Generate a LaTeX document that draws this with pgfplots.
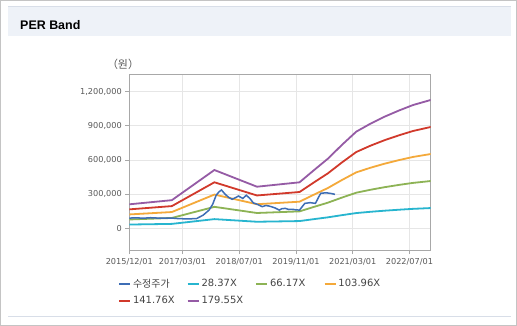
\documentclass[border=0pt]{standalone}
\usepackage{fontspec}
\setmainfont{Liberation Sans}
\newfontfamily\kr{Noto Sans CJK KR}
\newfontfamily\dv{DejaVu Sans}
\usepackage{pgfplots}
\usepackage{pgfplotstable}
\pgfplotsset{compat=1.18}
\definecolor{bluec}{HTML}{3D6DB5}
\definecolor{cyanc}{HTML}{27B5CF}
\definecolor{greenc}{HTML}{8DB355}
\definecolor{orangec}{HTML}{F4A93A}
\definecolor{redc}{HTML}{D1392B}
\definecolor{purplec}{HTML}{955BA5}
\definecolor{bandcol}{HTML}{EEF2F8}
\definecolor{bandline}{HTML}{D8DEE8}
\definecolor{outer}{HTML}{C4C4C4}
\definecolor{gridcol}{HTML}{E6E6E6}
\definecolor{axiscol}{HTML}{A8A8A8}
\definecolor{tickcol}{HTML}{5A5A5A}
\definecolor{legcol}{HTML}{444444}

\pgfplotstableread{
m b1 b2 b3 b4 b5
0 33300 77600 121900 166300 210600
12 39000 91000 142900 194900 246900
24 80800 188500 296100 403700 511400
36 57700 134500 211400 288200 365000
48 63700 148700 233600 318500 403400
52 80300 187300 294200 401200 508100
56 96500 225000 353500 482000 610500
60 115700 270000 424200 578400 732600
64 133900 312300 490700 669100 847500
68 145000 338100 531200 724400 917500
72 154700 360800 566900 773000 979100
76 163100 380500 597800 815100 1032400
80 170800 398300 625800 853400 1080900
85 177800 414800 651600 888600 1125400
}\bands

\pgfplotstableread{
m v
0 90000
2 92000
4 89000
6 93000
8 90000
10 89000
12 90000
13.5 86000
15 84000
17 83000
19 86000
20.8 115000
22.5 160000
23.5 210000
24.5 290000
25.3 320000
26 336000
27 300000
28 272000
29 255000
30 270000
30.8 283000
32 262000
33 290000
34 262000
35 222000
36 212000
37.5 190000
38.5 200000
39.5 195000
41 180000
42.3 160000
43 172000
44 175000
45 165000
46 167000
47 162000
48 160000
49.5 219000
51 225000
52.5 219000
53.5 280000
54 307000
55.5 312000
57 305000
58 298000
}\price

\begin{document}
\begin{tikzpicture}
\fill[white] (0,0) rectangle (517bp,-326bp);
\draw[outer, line width=1bp] (0.5bp,-0.5bp) rectangle (516.5bp,-325.5bp);
\fill[bandcol] (8bp,-6bp) rectangle (510.5bp,-36bp);
\draw[bandline, line width=1bp] (8bp,-6.5bp) -- (510.5bp,-6.5bp);
\draw[bandline, line width=1bp] (8bp,-316.5bp) -- (510.5bp,-316.5bp);
\node[anchor=base west, inner sep=0pt, font=\bfseries\fontsize{12.5}{14}\selectfont] at (20bp,-29bp) {PER Band};
\node[inner sep=0pt, text=tickcol, font=\kr\fontsize{11}{13}\selectfont] at (123bp,-64bp) {（원）};
\begin{axis}[
  at={(129.3bp,-250bp)}, anchor=south west,
  scale only axis, width=301.4bp, height=175.3bp,
  xmin=0, xmax=85, ymin=-190000, ymax=1347000,
  xtick={0,15,31,47,63,79},
  xticklabels={2015/12/01,2017/03/01,2018/07/01,2019/11/01,2021/03/01,2022/07/01},
  ytick={0,300000,600000,900000,1200000},
  yticklabels={0,{300,000},{600,000},{900,000},{1,200,000}},
  grid=major, grid style={draw=gridcol, line width=0.8bp},
  axis line style={draw=axiscol, line width=0.8bp},
  tick style={draw=axiscol, line width=0.8bp},
  tick align=outside, major tick length=4bp,
  xtick pos=bottom, ytick pos=left,
  ticklabel style={font=\dv\fontsize{8.2}{10}\selectfont, text=tickcol},
  xticklabel style={yshift=-1bp},
  scaled y ticks=false,
  legend columns=4,
  legend style={at={(-0.038,-0.152)}, anchor=north west, draw=none, fill=none,
    font=\dv\fontsize{10}{12}\selectfont, text=legcol, row sep=3.5bp,
    inner sep=0pt, /tikz/every even column/.append style={column sep=0bp}},
  legend cell align=left,
  legend image code/.code={\draw[#1, line width=2bp] (0bp,0bp) -- (11bp,0bp);},
]
\addlegendimage{bluec}
\addlegendimage{cyanc}
\addlegendimage{greenc}
\addlegendimage{orangec}
\addlegendimage{redc}
\addlegendimage{purplec}
\legend{\makebox[51.5bp][l]{\kr 수정주가},\makebox[51.5bp][l]{28.37X},\makebox[51.5bp][l]{66.17X},\makebox[51.5bp][l]{103.96X},\makebox[51.5bp][l]{141.76X},\makebox[51.5bp][l]{179.55X}}
\addplot[cyanc, line width=1.8bp, forget plot] table[x=m,y=b1]{\bands};
\addplot[greenc, line width=1.8bp, forget plot] table[x=m,y=b2]{\bands};
\addplot[orangec, line width=1.8bp, forget plot] table[x=m,y=b3]{\bands};
\addplot[redc, line width=1.8bp, forget plot] table[x=m,y=b4]{\bands};
\addplot[purplec, line width=1.8bp, forget plot] table[x=m,y=b5]{\bands};
\addplot[bluec, line width=1.5bp, forget plot] table[x=m,y=v]{\price};
\end{axis}
\end{tikzpicture}
\end{document}
